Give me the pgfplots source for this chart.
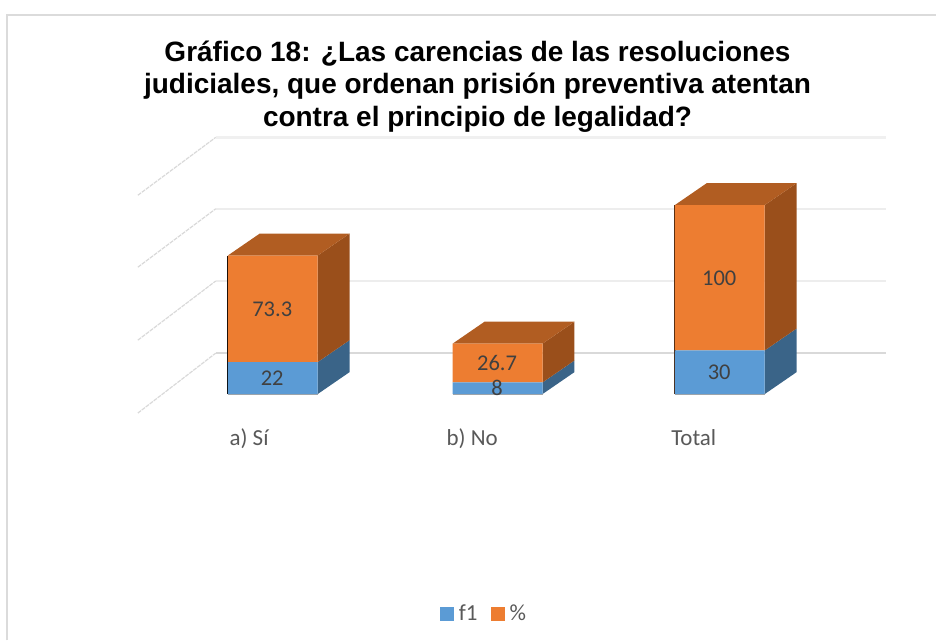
\documentclass[border=0pt]{standalone}
\usepackage{pgfplots}
\pgfplotsset{compat=1.18}
\usepackage{pgfplotstable}
\usepackage{fontspec}
\setmainfont{Carlito}
\newfontfamily\titlefont{Liberation Sans}
\definecolor{barblue}{HTML}{5B9BD5}
\definecolor{barorange}{HTML}{ED7D31}
\definecolor{sideblue}{HTML}{3A6488}
\definecolor{sideorange}{HTML}{9A4F1B}
\definecolor{toporange}{HTML}{B15D22}
\definecolor{lab}{HTML}{404040}
\definecolor{axlab}{HTML}{595959}
\pgfplotstableread{
x f1 pct
0 22 73.3
1.006 8 26.7
2 30 100
}\datatable
\pgfplotsset{
  common/.style={
    at={(138pt,227.5pt)}, anchor=south west,
    scale only axis, width=749pt, height=276pt,
    xmin=-0.6034, xmax=2.7441, ymin=-13.06, ymax=176.63,
    axis line style={draw=none}, major tick length=0pt,
    ytick=\empty, clip=false,
  }
}
\begin{document}
\begin{tikzpicture}[x=1pt,y=1pt]
\path (0,0) rectangle (937,641);
\draw[draw=black!14,line width=2pt] (7,0) -- (7,626) -- (937,626);
\node[align=center,font=\titlefont\bfseries\fontsize{28}{32.5}\selectfont,text=black] at (478,554.5)
 {Gráfico 18: ¿Las carencias de las resoluciones\\judiciales, que ordenan prisión preventiva atentan\\contra el principio de legalidad?};
\begin{axis}[common,
  xtick={-0.1059,0.8927,1.8837}, xticklabels={a) Sí,b) No,Total},
  xticklabel style={font=\fontsize{23}{25}\selectfont,text=axlab,text height=16pt,text depth=5pt,yshift=-12.5pt},
]
% back wall and floor lines
\addplot[draw=black!15,line width=2.5pt] coordinates {(-0.2548,28.18) (2.7441,28.18)};
\addplot[draw=black!7,line width=1.5pt] coordinates {(-0.2548,77.8) (2.7441,77.8)};
\addplot[draw=black!7,line width=1.5pt] coordinates {(-0.2548,127.5) (2.7441,127.5)};
\addplot[draw=black!6,line width=3pt] coordinates {(-0.2548,176.63) (2.7441,176.63)};
\addplot[draw=black!15,line width=1.2pt,dash pattern=on 4pt off 1pt] coordinates {(-0.6034,-13.06) (-0.2548,28.18)};
\addplot[draw=black!15,line width=1.2pt,dash pattern=on 4pt off 1pt] coordinates {(-0.6034,37.1) (-0.2548,77.8)};
\addplot[draw=black!15,line width=1.2pt,dash pattern=on 4pt off 1pt] coordinates {(-0.6034,87.3) (-0.2548,127.5)};
\addplot[draw=black!15,line width=1.2pt,dash pattern=on 4pt off 1pt] coordinates {(-0.6034,136.8) (-0.2548,176.63)};
% bar a
\addplot[fill=sideblue,draw=none] coordinates {(0.2011,0) (0.3441,15.12) (0.3441,37.12) (0.2011,22)} -- cycle;
\addplot[fill=sideorange,draw=none] coordinates {(0.2011,22) (0.3441,37.12) (0.3441,110.42) (0.2011,95.3)} -- cycle;
\addplot[fill=toporange,draw=none] coordinates {(-0.2011,95.3) (0.2011,95.3) (0.3441,110.42) (-0.0581,110.42)} -- cycle;
% bar b
\addplot[fill=sideblue,draw=none] coordinates {(1.2071,0) (1.3501,15.12) (1.3501,23.12) (1.2071,8)} -- cycle;
\addplot[fill=sideorange,draw=none] coordinates {(1.2071,8) (1.3501,23.12) (1.3501,49.82) (1.2071,34.7)} -- cycle;
\addplot[fill=toporange,draw=none] coordinates {(0.8049,34.7) (1.2071,34.7) (1.3501,49.82) (0.9479,49.82)} -- cycle;
% bar c
\addplot[fill=sideblue,draw=none] coordinates {(2.2011,0) (2.3441,15.12) (2.3441,45.12) (2.2011,30)} -- cycle;
\addplot[fill=sideorange,draw=none] coordinates {(2.2011,30) (2.3441,45.12) (2.3441,145.12) (2.2011,130)} -- cycle;
\addplot[fill=toporange,draw=none] coordinates {(1.7989,130) (2.2011,130) (2.3441,145.12) (1.9419,145.12)} -- cycle;
% edges
\addplot[draw=black,line width=2.5pt] coordinates {(-0.2011,0) (-0.2011,95.3)};
\addplot[draw=black!60!toporange,line width=2.5pt] coordinates {(1.7989,0) (1.7989,130)};
\addplot[draw=black!35,line width=2.5pt] coordinates {(-0.2011,0) (0.2011,0)};
\addplot[draw=black!35,line width=2.5pt] coordinates {(0.8049,0) (1.2071,0)};
\addplot[draw=black!35,line width=2.5pt] coordinates {(1.7989,0) (2.2011,0)};
\end{axis}
\begin{axis}[common,
  ybar stacked, bar width=90pt, xtick=\empty,
  /pgf/number format/assume math mode=true,
  nodes near coords,
  every node near coord/.append style={font=\fontsize{22.5}{25}\selectfont,text=lab,anchor=center,
     xshift=-0.5pt},
  legend style={at={(0.4626,-0.7283)},anchor=center,draw=none,fill=none,
     legend columns=2,font=\fontsize{23}{25}\selectfont,text=axlab,
     /tikz/every even column/.append style={column sep=11pt},
     /tikz/every odd column/.append style={column sep=3pt},
     inner sep=0pt},
  legend image code/.code={\fill[#1] (0pt,-7pt) rectangle (14pt,7pt);},
]
\addplot[fill=barblue,draw=none] table[x=x,y=f1] {\datatable};
\addlegendentry{f1}
\addplot[fill=barorange,draw=none] table[x=x,y=pct] {\datatable};
\addlegendentry{\%}
\end{axis}
\end{tikzpicture}
\end{document}
